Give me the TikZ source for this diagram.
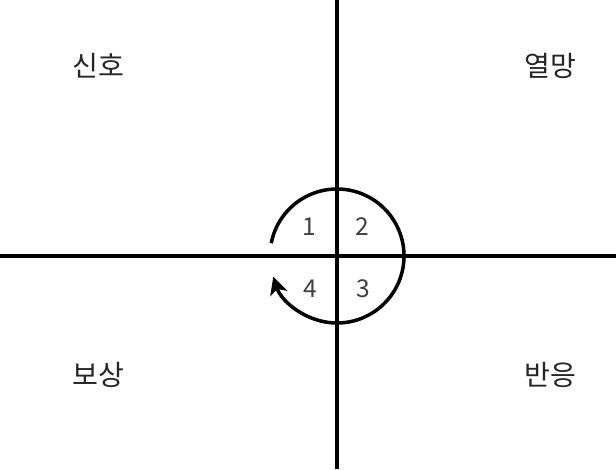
\documentclass[tikz,border=0pt]{standalone}
\usepackage{fontspec}
\setmainfont{Noto Sans CJK KR}
\usetikzlibrary{calc}
\usetikzlibrary{arrows.meta}
\tikzstyle{axis}=[line width=2.8pt,black]
\tikzstyle{loopline}=[line width=3pt,black,-{Stealth[length=15pt,width=15pt,inset=4pt]}]
\tikzstyle{quadrant}=[text=black!85,font=\fontsize{24}{24}\selectfont]
\tikzstyle{stage}=[text=black!75,font=\fontsize{21}{21}\selectfont]

\begin{document}
\begin{tikzpicture}[x=0.03cm,y=0.03cm]
	\useasboundingbox (0,0) rectangle (616,469);
	% axes
	\coordinate (o) at (337,213);
	\coordinate (west) at (0,213);
	\coordinate (east) at (616,213);
	\coordinate (north) at (337,469);
	\coordinate (south) at (337,0);
	\draw[axis] (west) -- (east);
	\draw[axis] (south) -- (north);
	% the loop, clockwise
	\draw[loopline] ($(o)+(169:67)$) arc (169:-162:67);
	% quadrant names
	\node[quadrant] (signal) at (98,403) {신호};
	\node[quadrant] (desire) at (550,403) {열망};
	\node[quadrant] (reward) at (98,94) {보상};
	\node[quadrant] (response) at (550,94) {반응};
	% step numbers
	\foreach \i/\x/\y in {1/309/242,2/362/242,3/363/180,4/310/180}
		\node[stage] (s\i) at (\x,\y) {\i};
\end{tikzpicture}
\end{document}
